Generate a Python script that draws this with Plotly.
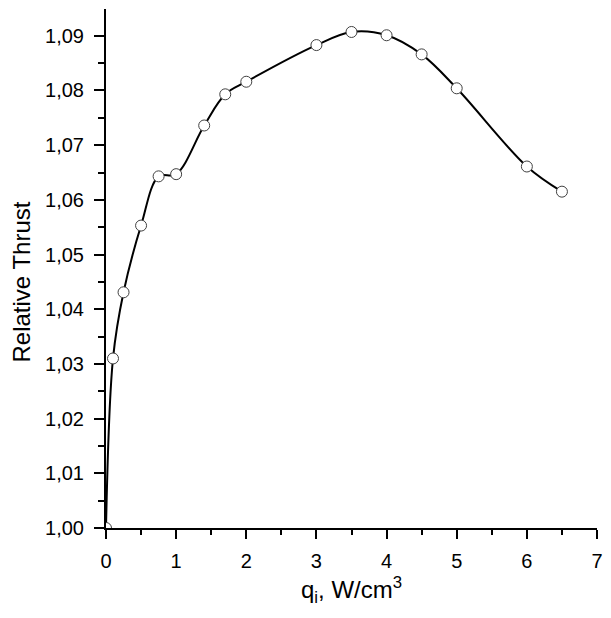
import plotly.graph_objects as go

q_values = [0, 0.1, 0.25, 0.5, 0.75, 1.0, 1.4, 1.7, 2.0, 3.0, 3.5, 4.0, 4.5, 5.0, 6.0, 6.5]
thrust_values = [1.000, 1.0310, 1.0431, 1.0553, 1.0643, 1.0647, 1.0736, 1.0793, 1.0816,
                 1.0883, 1.0907, 1.0901, 1.0866, 1.0804, 1.0661, 1.0615]

x_title = "q<sub>i</sub>, W/cm<sup>3</sup>"
y_title = "Relative Thrust"

font_family = "Arial, Liberation Sans, sans-serif"

fig = go.Figure()
fig.add_trace(go.Scatter(
    x=q_values, y=thrust_values,
    mode="lines+markers",
    line=dict(color="black", width=2, shape="spline", smoothing=1.0),
    marker=dict(size=11, color="white", line=dict(color="#404040", width=1)),
    showlegend=False,
))

fig.update_layout(
    width=611, height=618,
    margin=dict(l=106, r=14, t=9, b=90),
    paper_bgcolor="white", plot_bgcolor="white",
    separators=", ",
    font=dict(family=font_family, color="black", size=20),
    xaxis=dict(
        range=[0, 7], dtick=1, tick0=0,
        showgrid=False, zeroline=False,
        showline=True, linecolor="black", linewidth=2,
        ticks="outside", ticklen=9, tickwidth=2, tickcolor="black",
        minor=dict(dtick=0.5, ticks="outside", ticklen=5, tickwidth=2, tickcolor="black"),
        tickfont=dict(size=20),
        ticklabelstandoff=5,
        title=dict(text=x_title, font=dict(size=24), standoff=10),
    ),
    yaxis=dict(
        range=[1.0, 1.0949], dtick=0.01, tick0=1.0,
        tickformat=".2f",
        showgrid=False, zeroline=False,
        showline=True, linecolor="black", linewidth=2,
        ticks="outside", ticklen=10, tickwidth=2, tickcolor="black",
        minor=dict(dtick=0.005, ticks="outside", ticklen=6, tickwidth=2, tickcolor="black"),
        tickfont=dict(size=20),
        ticklabelstandoff=6,
    ),
    annotations=[dict(
        text=y_title, textangle=-90, showarrow=False,
        xref="paper", yref="paper", x=-0.172, y=0.474,
        xanchor="center", yanchor="middle",
        font=dict(size=24, family=font_family, color="black"),
    )],
)

fig.write_html("out.html")
